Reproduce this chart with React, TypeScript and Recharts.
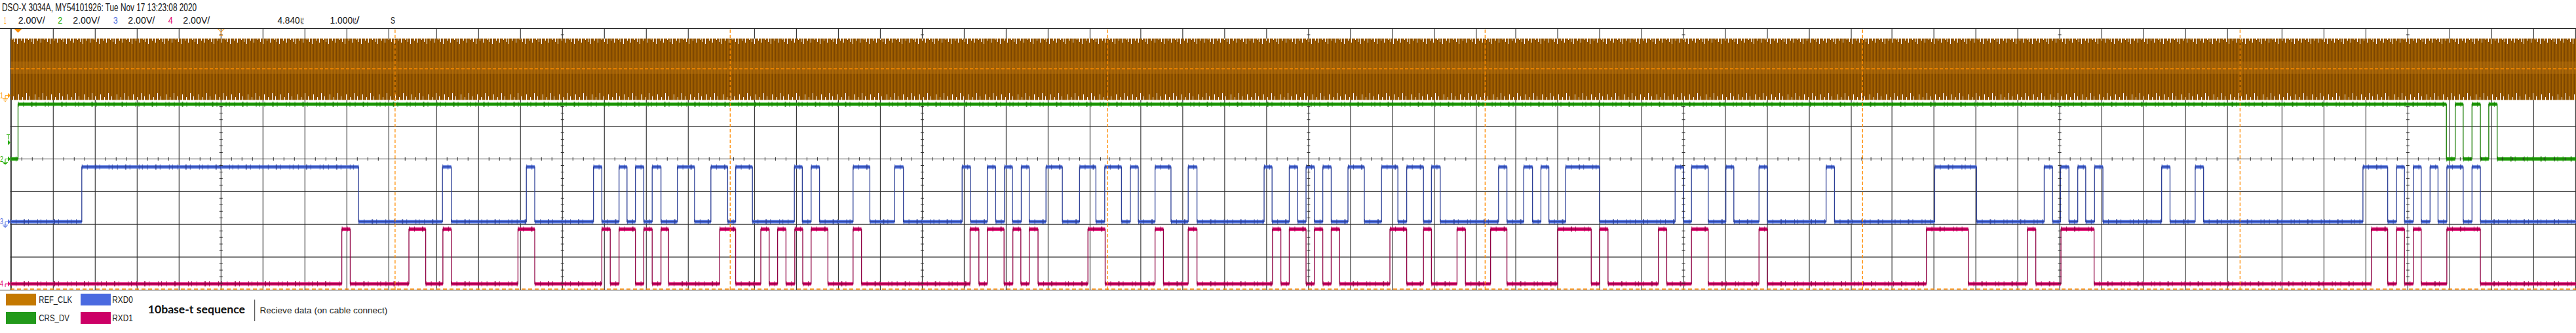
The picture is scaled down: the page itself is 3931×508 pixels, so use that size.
import React from 'react';
import { ComposedChart, Line, Area, Scatter, XAxis, YAxis, CartesianGrid, ReferenceLine, ReferenceDot } from 'recharts';

// time axis in µs (1.000 µs/div), amplitude in volts (2.00 V/div, 8 divisions tall)
const timeEnd = 61.17;

const channelNames = ['REF_CLK', 'CRS_DV', 'RXD0', 'RXD1'];
const legendColors = ['#c47800', '#22991a', '#4a6ae0', '#cc0066'];
const levelColors = ['#8d5300', '#22a50c', '#4b6ee0', '#e0066e'];
const edgeColors = ['#7a4600', '#167a00', '#2c3f96', '#8f0042'];
// ground marker of each channel, in divisions from the bottom of the screen
const channelOffsets = [5.94, 4.0, 2.08, 0.18];
const logicHigh = 3.35;

// REF_CLK is 50 MHz, so at 1 µs/div it shows up as a filled envelope
const refClkLow = -0.27;
const refClkHigh = 3.49;
const refClkMidLow = 1.32;
const refClkMidHigh = 2.08;
const triggerLevel = 1.64;

// the picture is several captures placed side by side
const segmentStarts = [0, 9.17, 17.16, 26.16, 35.16, 44.16, 53.16];
const segmentCenters = [5.02, 13.16, 21.74, 30.95, 39.89, 48.86, 57.16];
const gridDivs = [1, 2, 3, 4, 5, 6, 7];

// toggle times (µs), every line starts low
const crsDvToggles = [0.18, 58.08, 58.29, 58.48, 58.69, 58.89, 59.09, 59.29];
const rxd0Toggles = [
  1.70, 8.30, 10.30, 10.51, 12.30, 12.50, 13.90, 14.10, 14.51, 14.70, 14.90, 15.10, 15.30, 15.51,
  15.90, 16.31, 16.70, 17.10, 17.29, 17.69, 18.69, 18.88, 19.09, 19.29, 20.09, 20.49, 21.08, 21.29,
  22.69, 22.89, 23.29, 23.49, 23.70, 23.89, 24.10, 24.29, 24.69, 25.08, 25.49, 25.88, 26.09, 26.49,
  26.70, 26.89, 27.29, 27.67, 28.08, 28.29, 29.89, 30.08, 30.49, 30.69, 30.89, 31.09, 31.29, 31.49,
  31.89, 32.28, 32.69, 33.08, 33.29, 33.69, 33.88, 34.09, 35.48, 35.68, 36.08, 36.29, 36.49, 36.68,
  37.08, 37.89, 39.69, 39.89, 40.08, 40.48, 40.90, 41.09, 41.69, 41.89, 43.29, 43.49, 45.88, 46.88,
  48.49, 48.69, 48.88, 49.08, 49.29, 49.48, 49.69, 49.89, 51.29, 51.49, 52.09, 52.29, 56.09, 56.68,
  56.89, 57.08, 57.29, 57.48, 57.69, 57.88, 58.09, 58.48, 58.69, 58.89,
];
const rxd1Toggles = [
  7.90, 8.10, 9.50, 9.90, 10.31, 10.51, 12.10, 12.50, 14.10, 14.30, 14.51, 14.90, 15.10, 15.30,
  15.51, 15.69, 16.91, 17.29, 17.89, 18.09, 18.29, 18.49, 18.70, 18.89, 19.09, 19.49, 20.09, 20.29,
  22.88, 23.09, 23.29, 23.69, 23.90, 24.09, 24.29, 24.50, 25.69, 26.10, 27.29, 27.49, 28.08, 28.29,
  30.09, 30.29, 30.49, 30.89, 31.09, 31.29, 31.49, 31.69, 32.89, 33.29, 33.69, 33.88, 34.49, 34.69,
  35.29, 35.68, 36.89, 37.69, 37.89, 38.09, 39.29, 39.49, 40.08, 40.48, 41.69, 41.89, 45.68, 46.68,
  48.09, 48.29, 48.89, 49.68, 56.29, 56.68, 56.89, 57.08, 57.29, 57.48, 58.09, 58.89,
];

const markerLabels = ['1', '2', '3', '4', 'T'];
const markerLevels = [...channelOffsets, channelOffsets[1] + 0.5];
const markerColors = ['#ff9900', '#22aa00', '#4a6ae0', '#e0006e', '#22aa00'];

const toDiv = (ch: number, volts: number) => channelOffsets[ch] + volts / 2;

// thin line with the edges
const stepData = (ch: number, toggles: number[]) => {
  const pts = [{ t: 0, v: toDiv(ch, 0) }];
  toggles.forEach((t, i) => pts.push({ t, v: toDiv(ch, i % 2 === 0 ? logicHigh : 0) }));
  pts.push({ t: timeEnd, v: pts[pts.length - 1].v });
  return pts;
};

// thick noisy levels, broken at every edge
const levelData = (ch: number, toggles: number[]) => {
  const times = [0, ...toggles, timeEnd];
  const pts: { t: number; v: number | null }[] = [];
  for (let i = 0; i < times.length - 1; i++) {
    const v = toDiv(ch, i % 2 === 0 ? 0 : logicHigh);
    pts.push({ t: times[i], v }, { t: times[i + 1], v }, { t: times[i + 1], v: null });
  }
  return pts;
};

const clkBottom = toDiv(0, refClkLow);
const clkTop = toDiv(0, refClkHigh);

const segmentEnds = [...segmentStarts.slice(1), timeEnd];
const gridTimes: number[] = [];
const axisTicks: { t: number; v: number }[] = [];
const centerTicks: { t: number; v: number }[] = [];
segmentCenters.forEach((c, i) => {
  for (let k = -6; k <= 6; k++) {
    const t = +(c + k).toFixed(2);
    if (t > segmentStarts[i] && t < segmentEnds[i]) gridTimes.push(t);
  }
  for (let k = -40; k <= 40; k++) {
    const t = c + k * 0.25;
    if (k % 4 !== 0 && t > segmentStarts[i] && t < segmentEnds[i]) axisTicks.push({ t, v: 4 });
  }
  for (let j = 1; j < 40; j++) {
    const v = j * 0.2;
    // the clock envelope covers the ticks
    if (j % 5 !== 0 && (v < clkBottom - 0.05 || v > clkTop + 0.05)) centerTicks.push({ t: c, v });
  }
});

const clkRow = (t: number) => ({
  t,
  band: [clkBottom, clkTop],
  mid: [toDiv(0, refClkMidLow), toDiv(0, refClkMidHigh)],
});
const clkData = [clkRow(0), clkRow(timeEnd)];

const channels = [
  { ch: 1, toggles: crsDvToggles },
  { ch: 2, toggles: rxd0Toggles },
  { ch: 3, toggles: rxd1Toggles },
];

const GroundMarker = (props: any) => {
  const { y, payload } = props;
  const idx = markerLevels.indexOf(payload.value);
  if (idx < 0) return null;
  const color = markerColors[idx];
  if (markerLabels[idx] === 'T') {
    return (
      <g>
        <path d={`M10,${y - 12} L15,${y - 12} M12.5,${y - 12} L12.5,${y - 5}`} stroke={color} strokeWidth={1} fill="none" />
        <path d={`M12,${y - 4} L16,${y} L12,${y + 4} Z`} fill={color} />
      </g>
    );
  }
  return (
    <g>
      <text x={0} y={y + 4} fontSize={12} fill={color} fontFamily="Liberation Sans, sans-serif" textLength={5} lengthAdjust="spacingAndGlyphs">
        {markerLabels[idx]}
      </text>
      <path d={`M8,${y} L12,${y} M8,${y} L8,${y + 5}`} stroke={color} strokeWidth={1} fill="none" />
      <path d={`M12,${y - 4} L16,${y} L12,${y + 4} Z`} fill={color} />
      {idx < 3 && (
        <path
          d={`M4,${y + 5} L12,${y + 5} M5.5,${y + 7} L10.5,${y + 7} M7,${y + 9} L9,${y + 9}`}
          stroke={color}
          strokeWidth={1}
        />
      )}
    </g>
  );
};

const textFont = 'Liberation Sans, Arial, sans-serif';

// text squeezed to the width it has on the scope screenshot
const Fit = ({ x, y, w, size, color = '#111', children, family = textFont, weight = 400 }: any) => (
  <text
    x={x}
    y={y}
    fontSize={size}
    fill={color}
    fontFamily={family}
    fontWeight={weight}
    textLength={w}
    lengthAdjust="spacingAndGlyphs"
  >
    {children}
  </text>
);

const voltsX = [27.7, 111.3, 195.3, 279.3];
const numberX = [6, 88.3, 172.7, 256.7];

export default function App() {
  return (
    <div style={{ position: 'absolute', left: 0, top: 0, width: 3931, height: 508, background: '#fff', overflow: 'hidden' }}>
      <div style={{ position: 'absolute', left: 0, top: 0 }}>
        <ComposedChart width={3931} height={508} data={clkData} margin={{ top: 43, right: 0, bottom: 66, left: 0 }}>
          <defs>
            <pattern id="clkStripes" width="25" height="508" patternUnits="userSpaceOnUse">
              <rect width="25" height="508" fill="#8e5200" />
              {[0, 5, 10, 15, 20].map((x) => (
                <rect key={`l${x}`} x={x} width="1.4" height="508" fill="#a66400" />
              ))}
              {[3, 8, 13, 18, 23].map((x) => (
                <rect key={`d${x}`} x={x} width="0.8" height="508" fill="#764200" />
              ))}
              <rect x="1" y="58" width="1" height="9" fill="#fff" />
              <rect x="7" y="58" width="1" height="4" fill="#fff" />
              <rect x="12" y="58" width="1" height="7" fill="#fff" />
              <rect x="18" y="58" width="1" height="3" fill="#fff" />
              <rect x="22" y="58" width="1" height="6" fill="#fff" />
              <rect x="3" y="144" width="1" height="9" fill="#fff" />
              <rect x="9" y="148" width="1" height="5" fill="#fff" />
              <rect x="15" y="142" width="1" height="11" fill="#fff" />
              <rect x="20" y="147" width="1" height="6" fill="#fff" />
            </pattern>
          </defs>
          <XAxis dataKey="t" type="number" domain={[0, timeEnd]} hide allowDataOverflow />
          <YAxis
            type="number"
            domain={[0, 8]}
            width={16}
            ticks={markerLevels}
            interval={0}
            tick={<GroundMarker />}
            axisLine={false}
            tickLine={false}
            allowDataOverflow
          />
          <CartesianGrid stroke="#2e2e2e" strokeWidth={1.1} verticalValues={gridTimes} horizontalValues={gridDivs} />
          <ReferenceLine x={0} stroke="#222" />

          <Area dataKey="band" stroke="none" fill="url(#clkStripes)" fillOpacity={1} isAnimationActive={false} />
          <Area dataKey="mid" stroke="none" fill="#b87210" fillOpacity={0.45} isAnimationActive={false} />

          <Scatter
            data={axisTicks}
            dataKey="v"
            isAnimationActive={false}
            shape={(p: any) => <line x1={p.cx} x2={p.cx} y1={p.cy - 2.5} y2={p.cy + 2.5} stroke="#2e2e2e" strokeWidth={1} />}
          />
          <Scatter
            data={centerTicks}
            dataKey="v"
            isAnimationActive={false}
            shape={(p: any) => <line x1={p.cx - 2.5} x2={p.cx + 2.5} y1={p.cy} y2={p.cy} stroke="#2e2e2e" strokeWidth={1} />}
          />

          {channels.map(({ ch, toggles }) => (
            <Line
              key={`lvl-${ch}`}
              data={levelData(ch, toggles)}
              dataKey="v"
              type="linear"
              stroke={levelColors[ch]}
              strokeWidth={5}
              dot={false}
              connectNulls={false}
              isAnimationActive={false}
            />
          ))}
          {channels.map(({ ch, toggles }) => (
            <Line
              key={`noise-${ch}`}
              data={levelData(ch, toggles)}
              dataKey="v"
              type="linear"
              stroke={edgeColors[ch]}
              strokeOpacity={0.75}
              strokeWidth={8}
              strokeDasharray="1 7 1 11 2 5 1 13 1 4"
              dot={false}
              connectNulls={false}
              isAnimationActive={false}
            />
          ))}
          {channels.map(({ ch, toggles }) => (
            <Line
              key={`edge-${ch}`}
              data={stepData(ch, toggles)}
              dataKey="v"
              type="stepAfter"
              stroke={edgeColors[ch]}
              strokeWidth={1.3}
              dot={false}
              isAnimationActive={false}
            />
          ))}

          <ReferenceLine y={toDiv(0, triggerLevel)} stroke="#ff8c00" strokeWidth={1.3} strokeDasharray="5 3" />
          <ReferenceLine y={0.02} stroke="#ff8c00" strokeWidth={1.3} strokeDasharray="6 4" />
          {segmentStarts.slice(1).map((t) => (
            <ReferenceLine key={t} x={t} stroke="#ff8c00" strokeWidth={1.3} strokeDasharray="5 3" />
          ))}
          <ReferenceDot
            x={crsDvToggles[0]}
            y={8}
            ifOverflow="visible"
            shape={(p: any) => <path d={`M${p.cx - 6},${p.cy + 1} L${p.cx + 6},${p.cy + 1} L${p.cx},${p.cy + 7} Z`} fill="#ff8c00" />}
          />
          <ReferenceDot
            x={segmentCenters[0]}
            y={8}
            ifOverflow="visible"
            shape={(p: any) => (
              <path
                d={`M${p.cx - 5},${p.cy + 1} L${p.cx + 5},${p.cy + 1} L${p.cx},${p.cy + 6} Z M${p.cx},${p.cy + 6} L${p.cx},${p.cy + 11} M${p.cx - 3},${p.cy + 11} L${p.cx + 3},${p.cy + 11}`}
                fill="none"
                stroke="#ff8c00"
                strokeWidth={1}
              />
            )}
          />
        </ComposedChart>
      </div>

      {/* scope header, frame lines and legend */}
      <svg width={3931} height={508} style={{ position: 'absolute', left: 0, top: 0, pointerEvents: 'none' }}>
        <Fit x={3} y={16.7} w={297} size={16.5}>DSO-X 3034A, MY54101926: Tue Nov 17 13:23:08 2020</Fit>
        {numberX.map((x, i) => (
          <Fit key={`n${i}`} x={x} y={36} w={i === 0 ? 3.5 : 7} size={14} color={markerColors[i]}>
            {markerLabels[i]}
          </Fit>
        ))}
        {voltsX.map((x, i) => (
          <Fit key={`v${i}`} x={x} y={36} w={41} size={14}>2.00V/</Fit>
        ))}
        <Fit x={423.5} y={36} w={34} size={14}>4.840</Fit>
        <Fit x={458.5} y={31} w={5} size={7.5}>µ</Fit>
        <Fit x={458.5} y={36.5} w={5} size={7.5}>s</Fit>
        <Fit x={503.6} y={36} w={34.5} size={14}>1.000</Fit>
        <Fit x={538.5} y={31} w={5} size={7.5}>µ</Fit>
        <Fit x={538.5} y={36.5} w={5} size={7.5}>s</Fit>
        <Fit x={543.5} y={36} w={5} size={14}>/</Fit>
        <Fit x={596} y={36} w={7} size={14}>S</Fit>

        <line x1={0} x2={3931} y1={43.5} y2={43.5} stroke="#222" strokeWidth={1.2} />
        <line x1={0} x2={3931} y1={442.5} y2={442.5} stroke="#222" strokeWidth={1.2} />

        {channelNames.map((name, i) => {
          const col = i === 0 || i === 1 ? 0 : 1;
          const row = i === 0 || i === 2 ? 0 : 1;
          return (
            <g key={name}>
              <rect x={9 + col * 114} y={448 + row * 28} width={46} height={18} fill={legendColors[i]} />
              <Fit x={59.3 + col * 112} y={462 + row * 28} w={name.length > 4 ? (i === 0 ? 50.7 : 46.7) : 31.5} size={14.5} color="#222">
                {name}
              </Fit>
            </g>
          );
        })}
        <Fit x={225.7} y={478} w={148.3} size={17.5} weight={700} family="Lato, 'Open Sans', sans-serif">
          10base-t sequence
        </Fit>
        <line x1={388.7} x2={388.7} y1={457} y2={490} stroke="#333" strokeWidth={1} />
        <Fit x={396.4} y={478} w={194.8} size={13.5} color="#222">Recieve data (on cable connect)</Fit>
      </svg>
    </div>
  );
}
